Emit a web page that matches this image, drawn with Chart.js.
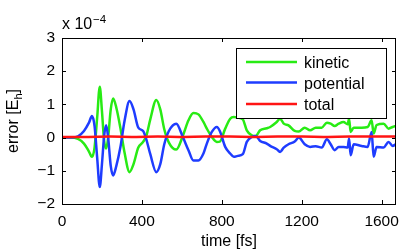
<!DOCTYPE html>
<html>
<head>
<meta charset="utf-8">
<script src="https://cdn.jsdelivr.net/npm/chart.js@4.4.1/dist/chart.umd.min.js"></script>
<style>
  html, body { margin: 0; padding: 0; background: #fff; }
  canvas { display: block; }
</style>
</head>
<body>
<canvas id="c" width="409" height="251"></canvas>
<script>
// ---- data (values in units of 1e-4 Eh) ------------------------------------
var time = [0, 40, 80, 110, 135, 150, 163, 176, 189, 200, 211, 221, 231, 244, 256,
  272, 292, 313, 338, 358, 382, 406, 422, 442, 472, 492, 512, 535, 572, 606,
  633, 658, 683, 708, 725, 750, 775, 790, 817, 842, 860, 880, 905, 925, 950,
  970, 992, 1025, 1042, 1075, 1092, 1110, 1134, 1165, 1185, 1215, 1242, 1270, 1300, 1326,
  1345, 1365, 1385, 1409, 1430, 1437, 1445, 1460, 1500, 1530, 1550, 1560, 1575, 1610, 1635,
  1655, 1672];
var kinetic = [0, 0, -0.04, -0.18, -0.42, -0.58, -0.3, 0.6, 1.53, 0.8, -0.1, -0.33, 0.0, 0.85, 1.18,
  0.9, 0.3, -0.45, -1.04, -0.8, -0.3, -0.13, 0.05, 0.55, 1.13, 0.85, 0.25, -0.15, -0.36, 0.07,
  0.52, 0.74, 0.7, 0.47, 0.27, 0.02, -0.13, -0.12, 0.27, 0.57, 0.62, 0.6, 0.55, 0.22, 0.07,
  0.05, 0.22, 0.28, 0.32, 0.47, 0.57, 0.42, 0.37, 0.2, 0.18, 0.3, 0.22, 0.3, 0.3, 0.45,
  0.42, 0.35, 0.42, 0.47, 0.4, 0.57, 0.17, 0.3, 0.3, 0.32, 0.52, 0.12, 0.38, 0.42, 0.27,
  0.32, 0.35];
var potential = [0, 0, 0.04, 0.2, 0.45, 0.65, 0.35, -0.6, -1.49, -0.8, 0.05, 0.37, 0.0, -0.85, -1.14,
  -0.85, -0.3, 0.5, 1.1, 0.85, 0.3, 0.2, -0.05, -0.5, -1.04, -0.8, -0.2, 0.2, 0.42, 0.0,
  -0.38, -0.69, -0.69, -0.48, -0.18, 0.17, 0.32, 0.2, -0.28, -0.48, -0.58, -0.55, -0.5, -0.13, 0.02,
  0.05, -0.1, -0.18, -0.25, -0.35, -0.43, -0.3, -0.2, -0.12, 0.0, -0.2, -0.28, -0.26, -0.3, -0.05,
  -0.2, -0.38, -0.28, -0.28, -0.3, -0.03, -0.53, -0.2, -0.25, -0.28, 0.17, -0.58, -0.28, -0.3, -0.13,
  -0.25, -0.2];
var totalTime = [0, 120, 240, 360, 480, 600, 720, 840, 960, 1080, 1200, 1320, 1440, 1560, 1672];
var total = [0.02, 0.02, 0.03, 0.02, 0.03, 0.02, 0.03, 0.03, 0.02, 0.03, 0.03, 0.02, 0.03, 0.03, 0.03];

var xTicks = [0, 400, 800, 1200, 1600];
var yTicks = [-2, -1, 0, 1, 2, 3];

var GREEN = "rgb(40,235,20)";
var BLUE = "rgb(30,60,255)";
var RED = "rgb(255,20,20)";
var FONT = "'Liberation Sans', Arial, sans-serif";

function pts(xs, ys) {
  return xs.map(function (x, i) { return { x: x, y: ys[i] }; });
}

// ---- matlab-ish frame, inward ticks, labels, legend ------------------------
var decor = {
  id: "decor",
  afterDraw: function (chart) {
    var ctx = chart.ctx, a = chart.chartArea;
    var xs = chart.scales.x, ys = chart.scales.y;
    ctx.save();
    ctx.strokeStyle = "#000";
    ctx.lineWidth = 1;
    ctx.beginPath();
    xTicks.forEach(function (v) {
      var px = Math.round(xs.getPixelForValue(v)) + 0.5;
      ctx.moveTo(px, a.bottom); ctx.lineTo(px, a.bottom - 4);
      ctx.moveTo(px, a.top); ctx.lineTo(px, a.top + 4);
    });
    yTicks.forEach(function (v) {
      var py = Math.round(ys.getPixelForValue(v)) + 0.5;
      ctx.moveTo(a.left, py); ctx.lineTo(a.left + 4, py);
      ctx.moveTo(a.right, py); ctx.lineTo(a.right - 4, py);
    });
    ctx.stroke();
    ctx.strokeRect(Math.round(a.left) + 0.5, Math.round(a.top) + 0.5,
      Math.round(a.right - a.left) - 1, Math.round(a.bottom - a.top));

    ctx.fillStyle = "#000";
    // exponent
    ctx.textBaseline = "alphabetic";
    ctx.textAlign = "left";
    ctx.font = "16px " + FONT;
    ctx.fillText("x 10", 62, 29);
    ctx.font = "11.5px " + FONT;
    ctx.fillText("\u22124", 93, 23);

    // x title
    ctx.font = "16px " + FONT;
    ctx.textAlign = "center";
    ctx.fillText("time [fs]", (a.left + a.right) / 2, 246);

    // y title with subscript
    ctx.save();
    ctx.translate(18, (a.top + a.bottom) / 2);
    ctx.rotate(-Math.PI / 2);
    var s1 = "error [E", s3 = "]";
    ctx.font = "16px " + FONT;
    var w1 = ctx.measureText(s1).width, w3 = ctx.measureText(s3).width;
    ctx.font = "11px " + FONT;
    var w2 = ctx.measureText("h").width;
    var x0 = -(w1 + w2 + w3) / 2;
    ctx.textAlign = "left";
    ctx.font = "16px " + FONT;
    ctx.fillText(s1, x0, 0);
    ctx.font = "11px " + FONT;
    ctx.fillText("h", x0 + w1, 4);
    ctx.font = "16px " + FONT;
    ctx.fillText(s3, x0 + w1 + w2, 0);
    ctx.restore();

    // legend
    var bx = 236, by = 48, bw = 150, bh = 70;
    ctx.fillStyle = "#fff";
    ctx.fillRect(bx, by, bw, bh);
    ctx.strokeRect(bx + 0.5, by + 0.5, bw, bh);
    var rows = [62, 82.5, 104];
    chart.data.datasets.slice().sort(function (p, q) { return p.legendRank - q.legendRank; })
      .forEach(function (ds, i) {
        ctx.strokeStyle = ds.borderColor;
        ctx.lineWidth = 2.5;
        ctx.beginPath();
        ctx.moveTo(246, rows[i]); ctx.lineTo(297, rows[i]);
        ctx.stroke();
        ctx.fillStyle = "#000";
        ctx.font = "16px " + FONT;
        ctx.textAlign = "left";
        ctx.fillText(ds.label, 304, rows[i] + 6);
      });
    ctx.restore();
  }
};

new Chart(document.getElementById("c"), {
  type: "line",
  data: {
    datasets: [
      { label: "total", data: pts(totalTime, total), borderColor: RED, legendRank: 2, order: 0 },
      { label: "potential", data: pts(time, potential), borderColor: BLUE, legendRank: 1, order: 1 },
      { label: "kinetic", data: pts(time, kinetic), borderColor: GREEN, legendRank: 0, order: 2 }
    ]
  },
  options: {
    responsive: false,
    animation: false,
    layout: { padding: { left: 0, right: 13, top: 38, bottom: 0 } },
    elements: {
      line: { borderWidth: 2.5, cubicInterpolationMode: "monotone", fill: false },
      point: { radius: 0 }
    },
    plugins: { legend: { display: false }, tooltip: { enabled: false } },
    scales: {
      x: {
        type: "linear", min: 0, max: 1672,
        grid: { display: false, drawTicks: false },
        border: { display: false },
        afterBuildTicks: function (s) { s.ticks = xTicks.map(function (v) { return { value: v }; }); },
        afterFit: function (s) { s.height = 47; },
        ticks: {
          color: "#000", font: { family: FONT, size: 15.5 }, padding: 8, maxRotation: 0,
          callback: function (v) { return String(v); }
        }
      },
      y: {
        type: "linear", min: -2, max: 3,
        grid: { display: false, drawTicks: false },
        border: { display: false },
        afterBuildTicks: function (s) { s.ticks = yTicks.map(function (v) { return { value: v }; }); },
        afterFit: function (s) { s.width = 62; },
        ticks: {
          color: "#000", font: { family: FONT, size: 15.5 }, padding: 7,
          callback: function (v) { return String(v).replace("-", "\u2212"); }
        }
      }
    }
  },
  plugins: [decor]
});
</script>
</body>
</html>
